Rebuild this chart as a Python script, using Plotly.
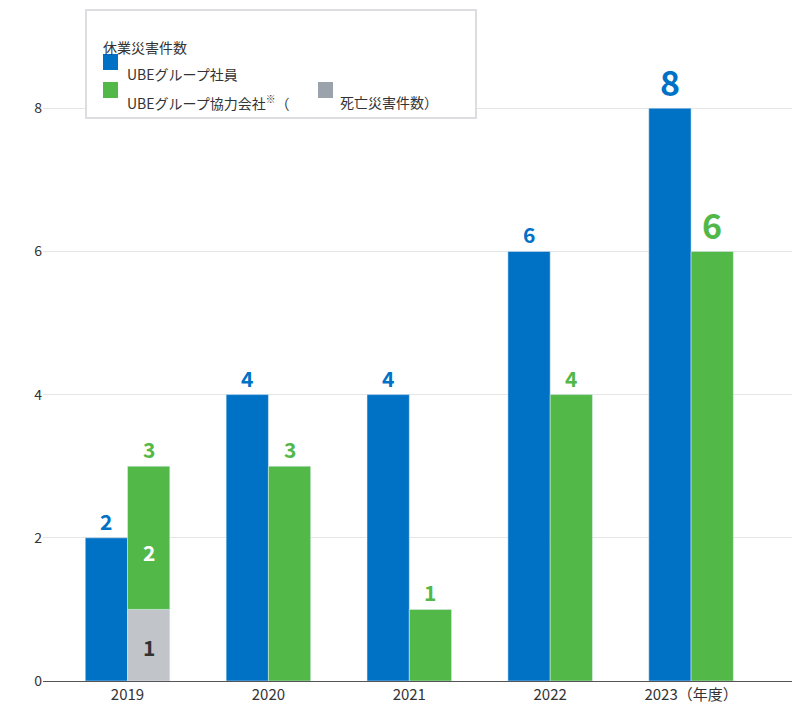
import plotly.graph_objects as go

years = ["2019", "2020", "2021", "2022", "2023"]
tick_text = ["2019", "2020", "2021", "2022", "2023（年度）"]
employees = [2, 4, 4, 6, 8]
partners_total = [3, 3, 1, 4, 6]
fatal = [1, 0, 0, 0, 0]

BLUE = "#0072c6"
GREEN = "#52b848"
GRAY = "#c1c4c9"
FONT = "Noto Sans CJK JP"

partners_nonfatal = [t - f for t, f in zip(partners_total, fatal)]

fig = go.Figure()
fig.add_bar(x=years, y=employees, marker_color=BLUE, offsetgroup="a")
fig.add_bar(x=years, y=[f if f else None for f in fatal], marker_color=GRAY, offsetgroup="b")
fig.add_bar(x=years, y=partners_nonfatal, base=fatal, marker_color=GREEN, offsetgroup="b")

# value labels
for i, (e, p) in enumerate(zip(employees, partners_total)):
    big = i == len(years) - 1
    size = 34 if big else 21
    fig.add_annotation(x=i - 0.15, y=e, text=str(e), showarrow=False, yanchor="bottom",
                       yshift=0, font=dict(size=size, color=BLUE, family=FONT, weight="bold"))
    fig.add_annotation(x=i + 0.15, y=p, text=str(p), showarrow=False, yanchor="bottom",
                       yshift=0, font=dict(size=size, color=GREEN, family=FONT, weight="bold"))
    if fatal[i]:
        fig.add_annotation(x=i + 0.15, y=p - 0.5 * partners_nonfatal[i] - 0.2,
                           text=str(partners_nonfatal[i]), showarrow=False,
                           font=dict(size=21, color="white", family=FONT, weight="bold"))
        fig.add_annotation(x=i + 0.15, y=fatal[i] * 0.5 - 0.03, text=str(fatal[i]),
                           showarrow=False,
                           font=dict(size=21, color="#333", family=FONT, weight="bold"))

# legend box (drawn by hand)
def px(x):
    return (x - 35) / 765

def py(y):
    return (673 - y) / 653

fig.add_shape(type="rect", xref="paper", yref="paper", x0=px(78), x1=px(468),
              y0=py(110), y1=py(2), fillcolor="white", line=dict(color="#dcdde0", width=2))
leg_font = dict(size=14, color="#333", family=FONT)
fig.add_annotation(xref="paper", yref="paper", x=px(93), y=py(27), text="休業災害件数",
                   showarrow=False, xanchor="left", font=leg_font)
for yy, col, label in [(54, BLUE, "UBEグループ社員"),
                       (82, GREEN, "UBEグループ協力会社<sup>※</sup>（")]:
    fig.add_shape(type="rect", xref="paper", yref="paper", x0=px(95), x1=px(110),
                  y0=py(yy + 8), y1=py(yy - 8), fillcolor=col, line_width=0)
    fig.add_annotation(xref="paper", yref="paper", x=px(117), y=py(yy), text=label,
                       showarrow=False, xanchor="left", font=leg_font)
fig.add_shape(type="rect", xref="paper", yref="paper", x0=px(310), x1=px(325),
              y0=py(90), y1=py(74), fillcolor="#9aa3ab", line_width=0)
fig.add_annotation(xref="paper", yref="paper", x=px(330), y=py(82), text="死亡災害件数）",
                   showarrow=False, xanchor="left", font=leg_font)

fig.update_layout(
    width=800, height=704, barmode="group", bargap=0.4, bargroupgap=0, showlegend=False,
    margin=dict(l=35, r=0, t=20, b=31, autoexpand=False),
    plot_bgcolor="white", paper_bgcolor="white",
    font=dict(family=FONT, color="#333"),
)
fig.update_xaxes(type="category", range=[-0.6, 4.83], tickvals=years, ticktext=tick_text,
                 tickfont=dict(size=15), showline=True, linecolor="#555", linewidth=1,
                 automargin=False, ticklen=0, ticks="")
fig.update_yaxes(range=[0, 9.12], tickvals=[0, 2, 4, 6, 8], showgrid=True, automargin=False,
                 gridcolor="#e6e6e6", zeroline=False, tickfont=dict(size=14))
fig.update_traces(cliponaxis=False)
fig.write_html("out.html")
